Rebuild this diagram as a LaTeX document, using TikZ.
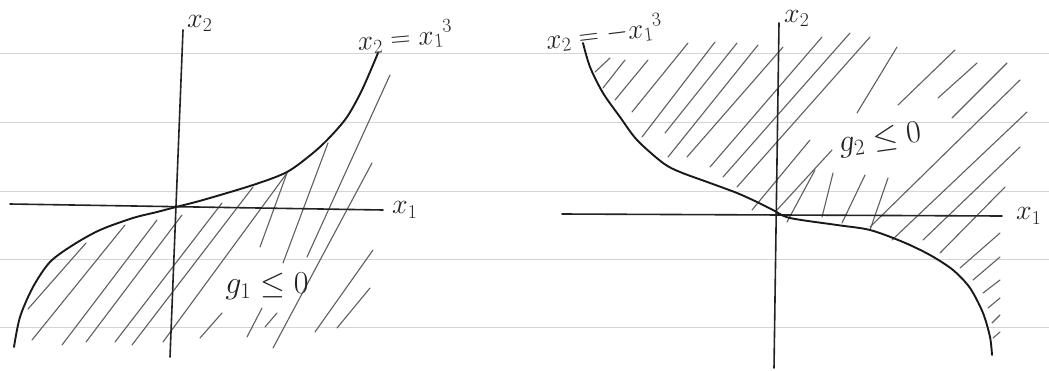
\RequirePackage{fix-cm}
\documentclass[tikz,border=0pt]{standalone}
\usepackage{amsmath,amssymb}
\usepackage{tikz}
\usetikzlibrary{positioning,calc}
\usepackage{xcolor}
\definecolor{pencil}{RGB}{35,35,35}
\definecolor{hatchgray}{RGB}{95,95,95}
\definecolor{ruleline}{RGB}{212,212,212}

\begin{document}
\begin{tikzpicture}[x=1pt,y=-1pt,
  axis/.style={pencil,line width=1.6pt,line cap=round},
  curve/.style={black!90,line width=1.9pt,line cap=round},
  hatch/.style={hatchgray,line width=1.1pt,line cap=round},
  lbl/.style={font=\fontsize{28}{32}\selectfont,inner sep=0pt,pencil},
  biglbl/.style={font=\fontsize{32}{36}\selectfont,inner sep=0pt,pencil}]
\useasboundingbox (0,0) rectangle (1049,370);
\fill[white] (0,0) rectangle (1049,370);
\foreach \y in {53,122,191,259,327}
  \draw[ruleline,line width=0.9pt] (0,\y) -- (1049,\y);

% left sketch: x2 = x1^3, region below
\coordinate (Lxw) at (10,204);
\coordinate (Lxe) at (383,210);
\coordinate (Lys) at (170,357);
\coordinate (Lyn) at (183,30);
\foreach \a/\b/\c/\d in {28/309/86/243, 32/340/125/225, 62/345/157/220,
    86/342/182/215, 115/342/222/203, 132/345/253/187, 163/342/287/173,
    260/247/287/173, 283/263/328/143, 307/257/390/75, 273/348/372/163,
    315/332/373/250, 337/328/370/288, 200/338/222/313, 247/337/262/308,
    265/327/277/313}
  \draw[hatch] (\a,\b) -- (\c,\d);
\draw[axis] (Lxw) -- (Lxe);
\draw[axis] (Lys) -- (Lyn);
\draw[curve] plot[smooth,tension=0.5] coordinates {(14,347) (20,317)
  (33,287) (50,262) (73,245) (100,230) (133,218) (157,212) (176,207)
  (203,200) (253,185) (287,172) (313,153) (330,137) (347,117) (362,90)
  (378,53)};
\node[lbl,right=9pt of Lxe] (Lx1) {$x_1$};
\node[lbl,above right=-2pt and 4pt of Lyn] (Lx2) {$x_2$};
\node[lbl,rotate=5] (Lfun) at (405,37) {$x_2=x_1{}^{3}$};
\node[biglbl] (g1) at (267,286) {$g_1\leq 0$};

% right sketch: x2 = -x1^3, region above
\coordinate (Rxw) at (562,214);
\coordinate (Rxe) at (1002,216);
\coordinate (Rys) at (774,368);
\coordinate (Ryn) at (779,23);
\foreach \a/\b/\c/\d in {595/72/610/58, 603/88/625/60, 615/100/648/60,
    632/112/688/43, 642/137/715/42, 665/133/737/43, 668/157/758/45,
    687/157/783/47, 710/167/822/37, 723/177/850/33, 737/187/870/37,
    752/210/810/140, 777/210/832/150, 787/222/815/170, 822/217/833/173,
    842/223/865/175, 870/230/888/178, 857/113/897/47, 898/105/955/50,
    938/98/977/63, 952/118/1007/63, 870/227/1020/80, 892/240/1027/112,
    923/240/1020/147, 940/253/1005/187, 960/268/1000/233,
    973/280/1000/257, 983/293/1000/280, 988/308/1000/298,
    992/323/1000/315, 993/338/1000/332}
  \draw[hatch] (\a,\b) -- (\c,\d);
\draw[axis] (Rxw) -- (Rxe);
\draw[axis] (Rys) -- (Ryn);
\draw[curve] plot[smooth,tension=0.5] coordinates {(583,43) (590,67)
  (603,93) (620,117) (637,140) (663,163) (680,172) (710,183) (737,193)
  (757,202) (773,210) (790,218) (837,225) (870,230) (903,242) (930,255)
  (953,270) (970,288) (983,313) (990,337) (992,355)};
\node[lbl,right=14pt of Rxe] (Rx1) {$x_1$};
\node[lbl,above right=-4pt and 5pt of Ryn] (Rx2) {$x_2$};
\node[lbl,rotate=7] (Rfun) at (604,33) {$x_2=-x_1{}^{3}$};
\node[biglbl,rotate=8] (g2) at (880,140) {$g_2\leq 0$};
\end{tikzpicture}
\end{document}
